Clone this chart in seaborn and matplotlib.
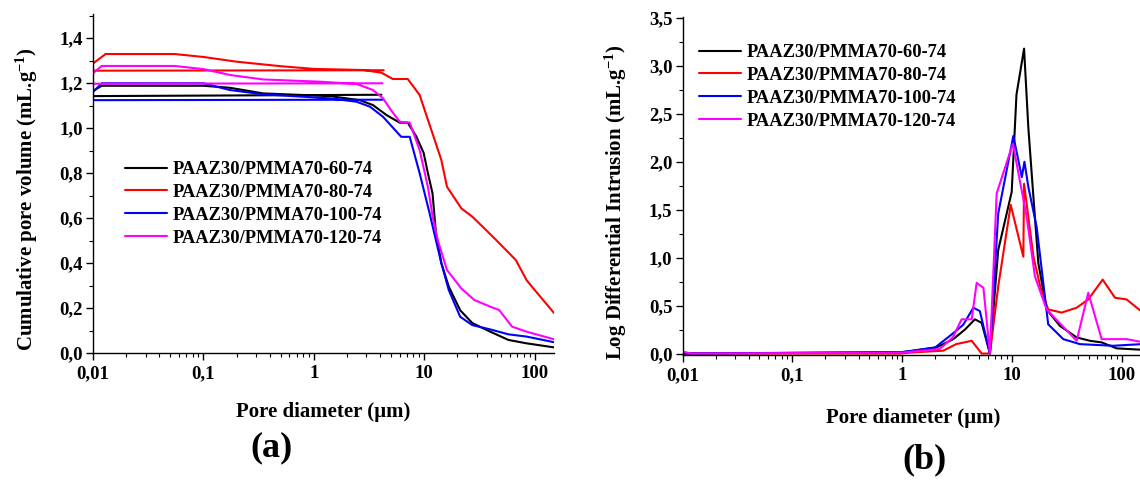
import numpy as np
import pandas as pd
import matplotlib
matplotlib.use("Agg")
import matplotlib.pyplot as plt
import seaborn as sns
from matplotlib.ticker import FixedLocator, FixedFormatter, LogLocator, NullFormatter, MultipleLocator

# ---------------- data ----------------
series_names = ["PAAZ30/PMMA70-60-74", "PAAZ30/PMMA70-80-74",
                "PAAZ30/PMMA70-100-74", "PAAZ30/PMMA70-120-74"]
series_colors = ["#000000", "#ff0000", "#0000ff", "#ff00ff"]

# (a) cumulative pore volume: intrusion curve (ascending diameter) + extrusion level
a_black_d = [0.01, 0.012, 0.1, 0.174, 0.348, 1.4, 2.61, 3.44, 4.55, 6.0, 7.1, 8.5, 9.9, 10.8, 11.9, 12.8, 14.3, 16.7, 21.2, 27.3, 39.6, 58, 84.6, 150]
a_black_v = [1.165, 1.188, 1.188, 1.179, 1.154, 1.142, 1.124, 1.102, 1.058, 1.024, 1.024, 0.962, 0.889, 0.80, 0.71, 0.53, 0.40, 0.295, 0.19, 0.133, 0.095, 0.058, 0.043, 0.025]
a_black_ext = [1.148, 1.142]
a_black_ext_d = [4.1, 0.01]

a_red_d = [0.01, 0.013, 0.055, 0.1, 0.2, 0.5, 1.0, 2.8, 4.1, 5.2, 7.1, 9.1, 10.1, 11.9, 14.3, 16.1, 21.7, 27.3, 43.3, 67.7, 84.6, 106, 150]
a_red_v = [1.287, 1.329, 1.329, 1.316, 1.295, 1.275, 1.263, 1.258, 1.246, 1.218, 1.218, 1.147, 1.08, 0.976, 0.858, 0.739, 0.643, 0.606, 0.51, 0.413, 0.324, 0.266, 0.178]
a_red_ext = [1.257, 1.255]
a_red_ext_d = [4.3, 0.01]

a_blue_d = [0.01, 0.012, 0.1, 0.174, 0.348, 1.40, 2.44, 3.23, 4.24, 6.2, 7.4, 9.1, 11.2, 12.8, 14.3, 16.7, 21.2, 27.3, 39.6, 58, 84.6, 150]
a_blue_v = [1.16, 1.199, 1.199, 1.169, 1.15, 1.132, 1.117, 1.095, 1.05, 0.961, 0.961, 0.799, 0.621, 0.50, 0.40, 0.28, 0.161, 0.124, 0.105, 0.083, 0.073, 0.048]
a_blue_ext = [1.126, 1.124]
a_blue_ext_d = [4.2, 0.01]

a_mag_d = [0.01, 0.012, 0.055, 0.1, 0.174, 0.348, 1.15, 2.44, 3.44, 4.24, 5.0, 6.0, 7.4, 9.1, 10.8, 12.0, 13.3, 16.1, 21.7, 28.4, 39.6, 47.8, 62.6, 84.6, 150]
a_mag_v = [1.244, 1.276, 1.276, 1.262, 1.236, 1.216, 1.206, 1.196, 1.169, 1.132, 1.08, 1.028, 1.024, 0.902, 0.739, 0.60, 0.50, 0.369, 0.287, 0.236, 0.206, 0.191, 0.117, 0.095, 0.061]
a_mag_ext = [1.199, 1.197]
a_mag_ext_d = [4.2, 0.01]

# (b) log differential intrusion
b_black_d = [0.01, 0.36, 1.0, 1.26, 2.06, 2.92, 3.73, 4.6, 5.3, 6.3, 7.5, 9.95, 11.0, 12.9, 14.1, 15.7, 17.4, 20.7, 27.4, 38.9, 51.4, 65.7, 90.1, 150]
b_black_v = [0.0, 0.01, 0.015, 0.03, 0.064, 0.15, 0.25, 0.357, 0.32, 0.0, 1.08, 1.685, 2.70, 3.18, 2.36, 1.63, 0.944, 0.46, 0.288, 0.168, 0.133, 0.116, 0.054, 0.04]

b_red_d = [0.01, 0.95, 1.26, 2.37, 3.1, 4.3, 5.3, 6.3, 7.5, 9.75, 12.7, 12.9, 15.7, 18.1, 21.4, 28.4, 38.9, 49.6, 67.1, 86.9, 111, 150]
b_red_v = [0.0, 0.0, 0.012, 0.03, 0.098, 0.133, 0.0, 0.0, 0.70, 1.55, 1.01, 1.77, 1.01, 0.70, 0.46, 0.427, 0.478, 0.564, 0.771, 0.582, 0.564, 0.443]

b_blue_d = [0.01, 1.0, 1.26, 2.0, 2.83, 3.6, 4.45, 5.1, 6.3, 7.5, 10.3, 12.3, 13.0, 14.1, 16.8, 21.4, 29.4, 41.7, 83.8, 150]
b_blue_v = [0.0, 0.015, 0.03, 0.064, 0.20, 0.30, 0.478, 0.443, 0.0, 1.46, 2.27, 1.84, 2.0, 1.74, 1.32, 0.305, 0.15, 0.098, 0.081, 0.098]

b_mag_d = [0.01, 0.012, 1.0, 2.2, 2.9, 3.48, 4.3, 4.77, 5.5, 6.3, 7.26, 10.2, 13.6, 16.2, 20.7, 38.9, 49.6, 65.7, 111, 150]
b_mag_v = [0.02, 0.0, 0.01, 0.047, 0.17, 0.357, 0.357, 0.737, 0.685, 0.0, 1.67, 2.19, 1.43, 0.805, 0.46, 0.133, 0.634, 0.15, 0.15, 0.122]

x_ticks = [0.01, 0.1, 1, 10, 100]
x_tick_labels = ["0,01", "0,1", "1", "10", "100"]
a_y_ticks = [0.0, 0.2, 0.4, 0.6, 0.8, 1.0, 1.2, 1.4]
a_y_tick_labels = ["0,0", "0,2", "0,4", "0,6", "0,8", "1,0", "1,2", "1,4"]
b_y_ticks = [0.0, 0.5, 1.0, 1.5, 2.0, 2.5, 3.0, 3.5]
b_y_tick_labels = ["0,0", "0,5", "1,0", "1,5", "2,0", "2,5", "3,0", "3,5"]

# ---------------- tables ----------------
a_paths = [
    (a_black_ext_d + a_black_d, a_black_ext + a_black_v),
    (a_red_ext_d + a_red_d, a_red_ext + a_red_v),
    (a_blue_ext_d + a_blue_d, a_blue_ext + a_blue_v),
    (a_mag_ext_d + a_mag_d, a_mag_ext + a_mag_v),
]
b_paths = [(b_black_d, b_black_v), (b_red_d, b_red_v), (b_blue_d, b_blue_v), (b_mag_d, b_mag_v)]


def to_frame(paths):
    rows = []
    for name, (xs, ys) in zip(series_names, paths):
        for i, (x, y) in enumerate(zip(xs, ys)):
            rows.append({"series": name, "order": i, "d": x, "v": y})
    return pd.DataFrame(rows)


df_a = to_frame(a_paths)
df_b = to_frame(b_paths)
palette = dict(zip(series_names, series_colors))

# ---------------- style ----------------
sns.set_theme(style="ticks")
plt.rcParams["font.family"] = ["Liberation Serif", "DejaVu Serif"]
plt.rcParams["font.weight"] = "bold"
plt.rcParams["axes.labelweight"] = "bold"
plt.rcParams["text.color"] = "black"
plt.rcParams["axes.labelcolor"] = "black"
plt.rcParams["xtick.color"] = "black"
plt.rcParams["ytick.color"] = "black"
plt.rcParams["mathtext.fontset"] = "custom"
plt.rcParams["mathtext.rm"] = "Liberation Serif:bold"
plt.rcParams["mathtext.bf"] = "Liberation Serif:bold"
plt.rcParams["mathtext.default"] = "rm"

W, H = 1140, 480
fig = plt.figure(figsize=(W / 100, H / 100), dpi=100)


def px_axes(l, r, b, t):
    return fig.add_axes([l / W, 1 - b / H, (r - l) / W, (b - t) / H])


ax_a = px_axes(93, 554, 353, 14)
ax_b = px_axes(682.7, 1141, 354.5, 17)

for ax, df in ((ax_a, df_a), (ax_b, df_b)):
    sns.lineplot(data=df, x="d", y="v", hue="series", hue_order=series_names,
                 palette=palette, sort=False, estimator=None, linewidth=1.5,
                 ax=ax, legend=True)
    ax.set_xscale("log")
    ax.set_xlim(0.01, 150)
    ax.xaxis.set_major_locator(FixedLocator(x_ticks))
    ax.xaxis.set_major_formatter(FixedFormatter(x_tick_labels))
    ax.xaxis.set_minor_locator(LogLocator(base=10, subs=np.arange(2, 10)))
    ax.xaxis.set_minor_formatter(NullFormatter())
    sns.despine(ax=ax)
    for s in ("left", "bottom"):
        ax.spines[s].set_linewidth(1.0)
        ax.spines[s].set_color("black")
    ax.tick_params(axis="both", which="major", direction="out", length=5, width=1,
                   labelsize=13.5, pad=2.5, colors="black", labelcolor="black")
    ax.tick_params(axis="both", which="minor", direction="out", length=3, width=0.8, colors="black")
    ax.tick_params(axis="x", which="major", pad=4)
    for lab in ax.get_xticklabels() + ax.get_yticklabels():
        lab.set_fontweight("bold")

ax_a.set_ylim(0, 1.507)
ax_a.yaxis.set_major_locator(FixedLocator(a_y_ticks))
ax_a.yaxis.set_major_formatter(FixedFormatter(a_y_tick_labels))
ax_a.yaxis.set_minor_locator(MultipleLocator(0.1))

ax_b.set_ylim(-0.01, 3.51)
ax_b.yaxis.set_major_locator(FixedLocator(b_y_ticks))
ax_b.yaxis.set_major_formatter(FixedFormatter(b_y_tick_labels))
ax_b.yaxis.set_minor_locator(MultipleLocator(0.25))

ax_a.set_xlabel("Pore diameter (µm)", fontsize=15, fontweight="bold", color="black")
ax_a.set_ylabel("Cumulative pore volume (mL.g$^{-1}$)", fontsize=15, fontweight="bold", color="black")
ax_b.set_xlabel("Pore diameter (µm)", fontsize=15, fontweight="bold", color="black")
ax_b.set_ylabel("Log Differential Intrusion (mL.g$^{-1}$)", fontsize=15, fontweight="bold", color="black")
ax_a.xaxis.set_label_coords(0.5, -0.145)
ax_a.yaxis.set_label_coords(-0.115, 0.454)
ax_b.xaxis.set_label_coords(0.504, -0.159)
ax_b.yaxis.set_label_coords(-0.117, 0.452)

for ax, (lx, ty) in ((ax_a, (125, 161)), (ax_b, (699, 44))):
    handles, labels = ax.get_legend_handles_labels()
    leg = ax.legend(handles, labels, loc="upper left", bbox_to_anchor=(lx / W, 1 - ty / H),
                    bbox_transform=fig.transFigure, frameon=False, borderpad=0,
                    borderaxespad=0, handlelength=2.3, handletextpad=0.3,
                    labelspacing=0.32, prop={"family": "Liberation Serif", "weight": "bold", "size": 13.3})
    for t in leg.get_texts():
        t.set_color("black")

fig.text(271.5 / W, 1 - 448 / H, "(a)", fontsize=26, fontweight="bold", ha="center", va="center", color="black")
fig.text(924.5 / W, 1 - 460 / H, "(b)", fontsize=26, fontweight="bold", ha="center", va="center", color="black")

fig.savefig("out.png", dpi=100)
